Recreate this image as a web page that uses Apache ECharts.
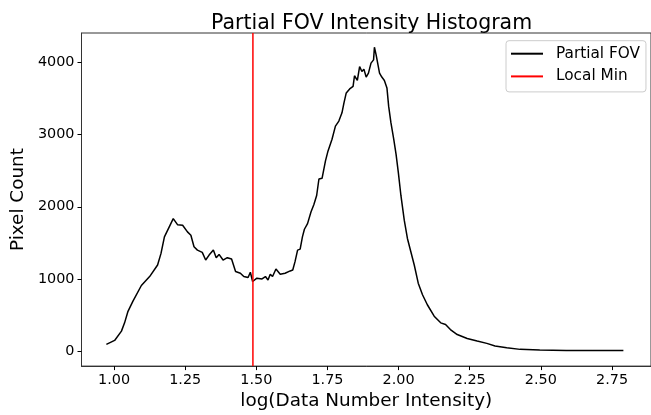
<!DOCTYPE html>
<html>
<head>
<meta charset="utf-8">
<script src="https://cdn.jsdelivr.net/npm/echarts@6/dist/echarts.min.js"></script>
<style>html,body{margin:0;padding:0;background:#fff;}#c{width:651px;height:415px;}</style>
</head>
<body>
<div id="c"></div>
<script>
const logIntensity = [0.973,1.002,1.026,1.037,1.049,1.066,1.096,1.125,1.153,1.165,1.177,1.194,1.208,1.223,1.241,1.258,1.27,1.281,1.293,1.31,1.322,1.334,1.349,1.359,1.369,1.383,1.398,1.413,1.427,1.444,1.456,1.471,1.479,1.487,1.502,1.52,1.532,1.541,1.549,1.557,1.569,1.584,1.601,1.619,1.628,1.636,1.645,1.654,1.662,1.669,1.68,1.692,1.702,1.712,1.72,1.731,1.743,1.752,1.766,1.778,1.79,1.801,1.808,1.816,1.828,1.84,1.845,1.855,1.863,1.871,1.878,1.886,1.894,1.903,1.912,1.915,1.921,1.927,1.933,1.941,1.95,1.959,1.965,1.973,1.983,1.991,1.999,2.008,2.02,2.031,2.043,2.055,2.069,2.084,2.101,2.125,2.148,2.165,2.182,2.206,2.241,2.276,2.31,2.339,2.38,2.427,2.496,2.589,2.683,2.79];
const pixelCount = [91,146,275,390,550,688,908,1032,1192,1353,1583,1720,1835,1752,1743,1652,1605,1445,1399,1367,1261,1330,1399,1294,1339,1261,1294,1275,1101,1078,1032,1019,1091,963,1009,999,1032,985,1064,1032,1137,1064,1078,1110,1123,1239,1399,1412,1583,1688,1766,1927,2028,2156,2385,2395,2637,2775,2936,3119,3188,3303,3441,3579,3634,3670,3817,3752,3945,3876,3909,3799,3854,3992,4037,4212,4106,4083,3854,3799,3752,3648,3395,3166,2936,2730,2478,2160,1811,1560,1376,1192,940,779,641,482,390,366,297,228,173,138,105,69,45,22,14,8,6,5];
const localMin = 1.488;
const xTicks = [1.00,1.25,1.50,1.75,2.00,2.25,2.50,2.75];
const yTicks = [0,1000,2000,3000,4000];
const xRange = [0.8856, 2.887];
const yRange = [-210, 4410];

const histData = logIntensity.map((x,i)=>[x,pixelCount[i]]);
const minLine = [[localMin, yRange[0]],[localMin, yRange[1]]];

const font = 'DejaVu Sans';
const chart = echarts.init(document.getElementById('c'), null, {renderer:'canvas'});
chart.setOption({
  animation:false,
  backgroundColor:'#fff',
  title:{
    text:'Partial FOV Intensity Histogram',
    left:206, top:8,
    textStyle:{fontFamily:font, fontSize:20.5, fontWeight:'normal', color:'#000'}
  },
  legend:{
    orient:'vertical',
    left:506, top:40.7,
    padding:[4.5,6,7,5],
    itemGap:5.7,
    itemWidth:32, itemHeight:2,
    icon:'rect',
    backgroundColor:'rgba(255,255,255,0.8)',
    borderColor:'#cccccc', borderWidth:1, borderRadius:3,
    textStyle:{fontFamily:font, fontSize:15.3, color:'#000', lineHeight:17, padding:[0,0,0,8]},
    data:[{name:'Partial FOV', itemStyle:{color:'#000'}},{name:'Local Min', itemStyle:{color:'#ff0000'}}]
  },
  grid:{left:81.5, top:33, width:573.8, height:335.3, show:true, borderColor:'#333', borderWidth:1, backgroundColor:'transparent'},
  xAxis:{
    type:'value', min:xRange[0], max:xRange[1],
    name:'log(Data Number Intensity)', nameLocation:'middle', nameGap:25,
    nameTextStyle:{fontFamily:font, fontSize:18.4, color:'#000', lineHeight:18, verticalAlign:'top'},
    axisLine:{show:true, onZero:false, lineStyle:{color:'#333', width:1}},
    axisTick:{show:true, length:4, customValues:xTicks, lineStyle:{color:'#000'}},
    axisLabel:{customValues:xTicks, margin:7, fontFamily:font, fontSize:14.4, color:'#000', formatter:v=>v.toFixed(2)},
    splitLine:{show:false}
  },
  yAxis:{
    type:'value', min:yRange[0], max:yRange[1],
    name:'Pixel Count', nameLocation:'middle', nameGap:52, nameRotate:90,
    nameTextStyle:{fontFamily:font, fontSize:18.4, color:'#000'},
    axisLine:{show:true, onZero:false, lineStyle:{color:'#333', width:1}},
    axisTick:{show:true, length:4, customValues:yTicks, lineStyle:{color:'#000'}},
    axisLabel:{customValues:yTicks, margin:7, fontFamily:font, fontSize:14.4, color:'#000', formatter:v=>String(v)},
    splitLine:{show:false}
  },
  series:[
    {name:'Partial FOV', type:'line', data:histData, showSymbol:false, symbol:'none',
     lineStyle:{color:'#000', width:1.5}, itemStyle:{color:'#000'}},
    {name:'Local Min', type:'line', data:minLine, showSymbol:false, symbol:'none',
     lineStyle:{color:'#ff0000', width:1.5}, itemStyle:{color:'#ff0000'}}
  ]
});
</script>
</body>
</html>
